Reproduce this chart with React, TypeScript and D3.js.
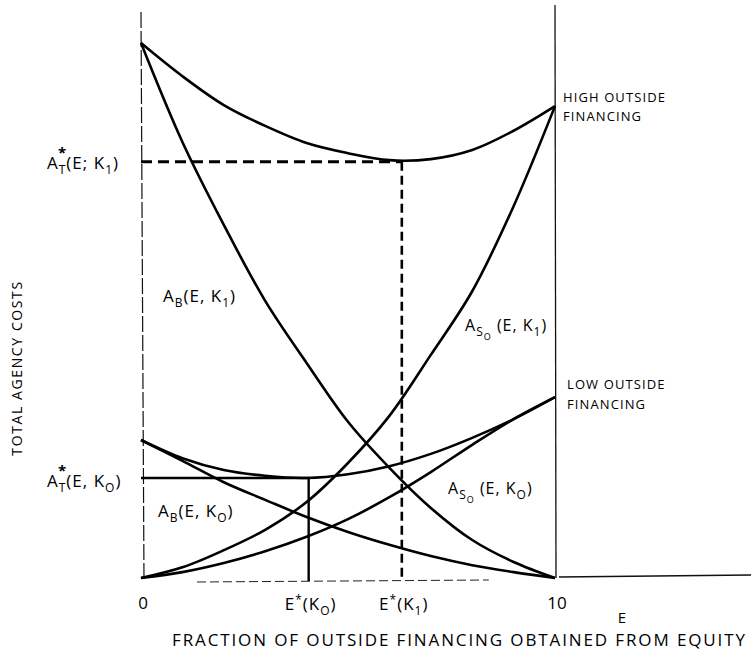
import React from "react";
import * as d3 from "d3";

// ---- data ----
const E_VALUES = [0, 1, 2, 3, 4, 5, 6, 7, 8, 9, 10];
const TOTAL_HIGH = [100, 93.8, 88.4, 84.5, 81.3, 79.4, 78.1, 78.3, 80.0, 83.6, 88.2];
const AB_HIGH = [100, 81.5, 66.0, 51.8, 40.2, 29.2, 20.6, 13.1, 7.1, 3.0, 0];
const ASO_HIGH = [0, 2.0, 5.2, 9.0, 14.2, 21.5, 30.3, 41.7, 53.6, 69.5, 88.2];
const TOTAL_LOW = [25.8, 22.4, 20.2, 19.1, 18.7, 19.4, 20.9, 23.2, 26.2, 29.7, 33.8];
const AB_LOW = [25.8, 21.9, 17.9, 14.6, 11.4, 8.6, 6.2, 4.1, 2.4, 1.1, 0];
const ASO_LOW = [0, 1.1, 2.8, 5.0, 7.7, 11.0, 15.1, 19.8, 24.9, 29.7, 33.8];
const E_STAR_HIGH = 6.3;
const A_STAR_HIGH = 77.8;
const E_STAR_LOW = 4.05;
const A_STAR_LOW = 18.7;
const X_TICKS = [0, 10];

const W = 751;
const H = 654;
const FONT = "'Open Sans', 'DejaVu Sans', sans-serif";

type Part = [string, number, number?]; // text, baseline offset (px, + = down), font size

function Label({ x, y, parts, size = 17, anchor = "start", spacing = 1 }: { x: number; y: number; parts: Part[]; size?: number; anchor?: string; spacing?: number }) {
  let prev = 0;
  return (
    <text x={x} y={y} fontSize={size} textAnchor={anchor as any} letterSpacing={spacing}>
      {parts.map(([t, off, fs], i) => {
        const dy = off - prev;
        prev = off;
        return (
          <tspan key={i} dy={dy} fontSize={fs ?? size}>
            {t}
          </tspan>
        );
      })}
    </text>
  );
}

export default function App() {
  const x = d3.scaleLinear().domain([0, 10]).range([141, 555]);
  const y = d3.scaleLinear().domain([0, 100]).range([578, 43]);
  const line = d3
    .line<number>()
    .x((_, i) => x(E_VALUES[i]))
    .y((d) => y(d))
    .curve(d3.curveCatmullRom.alpha(0.5));

  const curves = [TOTAL_HIGH, AB_HIGH, ASO_HIGH, TOTAL_LOW, AB_LOW, ASO_LOW];

  return (
    <svg
      width={W}
      height={H}
      viewBox={`0 0 ${W} ${H}`}
      style={{ position: "absolute", left: 0, top: 0, background: "#fff" }}
      fontFamily={FONT}
    >
      <rect width={W} height={H} fill="#fff" />
      {/* frame lines */}
      <line x1={x(0)} x2={x(0) + 3} y1={12} y2={582} stroke="#111" strokeWidth={1.2} strokeDasharray="16 3" />
      <line x1={x(10)} x2={x(10) + 1} y1={5} y2={578} stroke="#111" strokeWidth={1.3} />
      <line x1={x(0) + 56} x2={x(8.4)} y1={582} y2={580} stroke="#222" strokeWidth={1} strokeDasharray="9 4" />
      <line x1={x(10) + 4} x2={W} y1={577} y2={575} stroke="#111" strokeWidth={1.3} />

      {/* reference lines */}
      <line x1={x(0)} x2={x(E_STAR_HIGH)} y1={y(A_STAR_HIGH)} y2={y(A_STAR_HIGH)} stroke="#000" strokeWidth={3} strokeDasharray="11 6" />
      <line x1={x(E_STAR_HIGH)} x2={x(E_STAR_HIGH)} y1={y(A_STAR_HIGH)} y2={y(0) + 2} stroke="#000" strokeWidth={2.6} strokeDasharray="9 5" />
      <line x1={x(0)} x2={x(E_STAR_LOW)} y1={y(A_STAR_LOW)} y2={y(A_STAR_LOW)} stroke="#000" strokeWidth={2.4} />
      <line x1={x(E_STAR_LOW)} x2={x(E_STAR_LOW)} y1={y(A_STAR_LOW)} y2={y(0) + 3} stroke="#000" strokeWidth={2.4} />

      {/* curves */}
      {curves.map((c, i) => (
        <path key={i} d={line(c) || ""} fill="none" stroke="#000" strokeWidth={2.6} strokeLinejoin="round" />
      ))}

      {/* curve labels */}
      <g fill="#000">
        <Label x={47} y={169} parts={[["A", 0], ["T", 5, 12], ["(E; K", 0], ["1", 5, 12], [")", 0]]} />
        <text x={58} y={158} fontSize={15} fontWeight="bold">*</text>
        <Label x={47} y={487} parts={[["A", 0], ["T", 5, 12], ["(E, K", 0], ["O", 5, 12], [")", 0]]} />
        <text x={58} y={476} fontSize={15} fontWeight="bold">*</text>

        <Label x={163} y={302} parts={[["A", 0], ["B", 5, 12], ["(E, K", 0], ["1", 5, 12], [")", 0]]} />
        <Label x={158} y={517} parts={[["A", 0], ["B", 5, 12], ["(E, K", 0], ["O", 5, 12], [")", 0]]} />
        <Label x={465} y={331} size={16} parts={[["A", 0], ["S", 5, 12], ["O", 9, 9], [" (E, K", 0], ["1", 5, 12], [")", 0]]} />
        <Label x={448} y={494} size={16} parts={[["A", 0], ["S", 5, 12], ["O", 9, 9], [" (E, K", 0], ["O", 5, 12], [")", 0]]} />
      </g>

      {/* right annotations */}
      <g fontSize={13} fill="#000" letterSpacing={1.1}>
        <text x={563} y={102}>HIGH OUTSIDE</text>
        <text x={563} y={121}>FINANCING</text>
        <text x={567} y={389}>LOW OUTSIDE</text>
        <text x={567} y={409}>FINANCING</text>
      </g>

      {/* x tick labels */}
      <g fill="#000">
        {X_TICKS.map((t) => (
          <text key={t} x={x(t) + 2} y={609} fontSize={17} textAnchor="middle">{t}</text>
        ))}
        <Label x={x(E_STAR_LOW) + 2} y={610} anchor="middle" parts={[["E", 0], ["*", -6, 12], ["(K", 0], ["O", 5, 12], [")", 0]]} />
        <Label x={x(E_STAR_HIGH) + 2} y={610} anchor="middle" parts={[["E", 0], ["*", -6, 12], ["(K", 0], ["1", 5, 12], [")", 0]]} />
        <text x={622} y={623} fontSize={15} textAnchor="middle">E</text>
      </g>

      {/* axis titles */}
      <text x={172} y={646} fontSize={17} textLength={573} lengthAdjust="spacing">
        FRACTION OF OUTSIDE FINANCING OBTAINED FROM EQUITY
      </text>
      <text
        transform="translate(22,368) rotate(-90)"
        textAnchor="middle"
        fontSize={14}
        letterSpacing={1.6}
      >
        TOTAL AGENCY COSTS
      </text>
    </svg>
  );
}
